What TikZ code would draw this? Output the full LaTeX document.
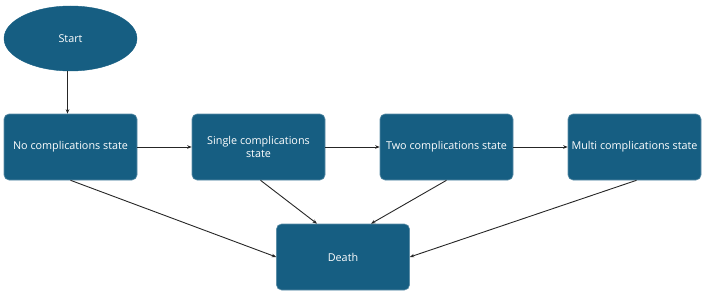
\documentclass[tikz,border=0pt]{standalone}
\usepackage{fontspec}
\setmainfont{Open Sans}
\usetikzlibrary{arrows.meta, positioning, shapes.geometric}
\definecolor{statefill}{HTML}{165E82}
\tikzset{
  statebox/.style={draw=statefill!70!white, line width=0.6pt, fill=statefill, rounded corners=5pt,
    minimum width=133pt, minimum height=66pt, inner sep=2pt, text=white, font=\fontsize{10.8}{12.5}\selectfont, align=center},
  startnode/.style={ellipse, fill=statefill, draw=statefill, minimum width=133pt, minimum height=65pt,
    inner sep=0pt, text=white, font=\fontsize{10.8}{12.5}\selectfont},
  link/.style={-{Stealth[length=4.5pt, width=3.5pt]}, line width=0.9pt, black!85}
}
\begin{document}
\begin{tikzpicture}[x=1pt, y=-1pt]
  \useasboundingbox (0,0) rectangle (708,294);
  % Start
  \node[startnode] (start) at (70.5,38.5) {Start};
  % Etats
  \node[statebox] (none) at (70.5,147) {No complications state};
  \node[statebox] (single) at (258.5,147) {Single complications\\state};
  \node[statebox] (two) at (446.5,147) {Two complications state};
  \node[statebox] (multi) at (634.5,147) {Multi complications state};
  % Deces
  \node[statebox] (death) at (343,257) {Death};
  % Transitions
  \draw[link] ([xshift=-3pt]start.south) -- ([xshift=-3pt]none.north);
  \draw[link] (none.east) -- (single.west);
  \draw[link] (single.east) -- (two.west);
  \draw[link] (two.east) -- (multi.west);
  % Vers le deces
  \draw[link] (none.south) -- (death.west);
  \draw[link] ([xshift=2pt]single.south) -- ([xshift=-26pt]death.north);
  \draw[link] (two.south) -- ([xshift=28pt]death.north);
  \draw[link] ([xshift=2pt]multi.south) -- (death.east);
\end{tikzpicture}
\end{document}
